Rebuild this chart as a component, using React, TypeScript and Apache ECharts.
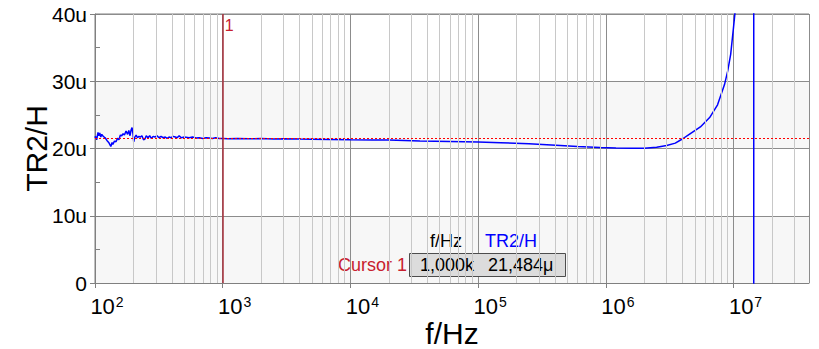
import React, { useEffect, useRef } from "react";
import * as echarts from "echarts";

// Measured transfer curve: frequency (Hz) and TR2 in µH
const freqHz = [
  100, 101, 103, 105.6, 107, 109, 111, 113, 116, 120, 124, 128, 133, 136, 138, 142, 146, 150,
  154, 158, 162, 166, 170, 175, 180, 184, 188, 192, 195, 198, 201, 205, 210, 215, 221, 226,
  233, 240, 246, 252, 260, 268, 276, 285, 295, 306, 317, 329, 342, 355, 367, 380, 394, 410,
  425, 440, 456, 473, 500, 546, 580, 620, 655, 700, 740, 785, 830, 880, 940, 1000, 1100,
  1300, 1600, 2000, 2500, 3000, 4000, 5000, 7000, 1e4, 1.5e4, 2e4, 3.5e4, 6e4, 1e5, 1.5e5,
  2.5e5, 4.4e5, 6e5, 9e5, 1.2e6, 1.6e6, 2e6, 2.5e6, 3e6, 3.5e6, 4e6, 4.5e6, 5.5e6, 6.5e6,
  7.5e6, 8.5e6, 9e6, 9.5e6, 1e7, 1.05e7, 1.2e7, 1.44e7, 1.44e7, 2e7, 3.9e7,
];
const tr2uH = [
  21.6, 21.8, 21.3, 22.4, 21.9, 22.3, 21.7, 22.1, 21.8, 21.6, 21.2, 20.9, 20.3, 20.9, 20.6,
  21.1, 21.0, 21.5, 21.3, 22.0, 21.9, 22.2, 22.0, 22.6, 22.1, 22.7, 21.9, 22.8, 23.1, 22.3,
  21.0, 21.7, 22.0, 21.6, 21.8, 21.7, 21.9, 21.3, 21.4, 21.9, 21.6, 21.9, 21.5, 21.8, 21.7,
  21.9, 21.6, 21.8, 21.6, 21.7, 21.5, 21.7, 21.6, 21.8, 21.7, 21.6, 21.9, 21.6, 21.7, 21.6,
  21.7, 21.55, 21.6, 21.5, 21.6, 21.55, 21.5, 21.6, 21.5, 21.484, 21.45, 21.5, 21.45, 21.48,
  21.43, 21.45, 21.4, 21.38, 21.35, 21.3, 21.28, 21.25, 21.1, 21.05, 20.95, 20.85, 20.7,
  20.45, 20.3, 20.15, 20.07, 20.03, 20.05, 20.2, 20.45, 20.8, 21.45, 22.1, 23.2, 24.6, 26.5,
  29.5, 31.5, 34.0, 38.0, 42.0, 60.0, 5000, -5000, -60, -20,
];

// Axis ranges
const xMin = 100;
const xMax = 3.9e7;
const yMin = 0;
const yMax = 40;
const yStep = 10;
const yMinorStep = 5;

// Logarithmic grid: decades and in-between multiples
const decades = [1e2, 1e3, 1e4, 1e5, 1e6, 1e7];
const minorMultipliers = [2, 3, 4, 5, 6, 7, 8, 9];

// Cursor 1 readout
const cursorFreq = 1000;
const cursorValue = 21.484;
const cursorName = "Cursor 1";
const cursorMark = "1";
const readoutFreqHeader = "f/Hz";
const readoutValueHeader = "TR2/H";
const readoutFreqText = "1,000k";
const readoutValueText = "21,484μ";

const FONT = "Arial, 'Liberation Sans', sans-serif";

export default function App() {
  const ref = useRef<HTMLDivElement>(null);

  useEffect(() => {
    if (!ref.current) return;
    document.body.style.margin = "0";
    const chart = echarts.init(ref.current, null, { renderer: "svg" });

    const curve = freqHz.map((f, i) => [f, tr2uH[i]]);
    const minorFreqs: number[] = [];
    decades.forEach((d) =>
      minorMultipliers.forEach((m) => {
        const f = d * m;
        if (f > xMin && f < xMax) minorFreqs.push(f);
      })
    );

    chart.setOption({
      animation: false,
      backgroundColor: "#ffffff",
      textStyle: { fontFamily: FONT },
      grid: {
        left: 95,
        right: 10,
        top: 14,
        bottom: 66,
        outerBoundsMode: "none",
        containLabel: false,
        show: true,
        borderColor: "#808080",
        borderWidth: 1,
        backgroundColor: "transparent",
      },
      xAxis: {
        type: "log",
        logBase: 10,
        min: xMin,
        max: xMax,
        name: "f/Hz",
        nameLocation: "middle",
        nameGap: 35,
        nameMoveOverlap: false,
        nameTextStyle: { fontFamily: FONT, fontSize: 30, lineHeight: 30, color: "#000000" },
        axisLine: { show: true, lineStyle: { color: "#808080", width: 1 } },
        axisTick: { show: true, length: 5, lineStyle: { color: "#808080" } },
        splitLine: { show: true, lineStyle: { color: "#8c8c8c", width: 1 } },
        axisLabel: {
          margin: 12,
          showMaxLabel: false,
          padding: [0, 0, 0, 24],
          formatter: (v: number) => {
            const e = Math.log10(v);
            if (Math.abs(e - Math.round(e)) > 1e-6) return "";
            return `{b|10}{s|${Math.round(e)}}`;
          },
          rich: {
            b: { fontFamily: FONT, fontSize: 22, color: "#000000", verticalAlign: "bottom" },
            s: {
              fontFamily: FONT,
              fontSize: 14,
              color: "#000000",
              verticalAlign: "top",
              padding: [0, 0, 8, 1],
            },
          },
        },
      },
      yAxis: [
        {
          type: "value",
          position: "left",
          min: yMin,
          max: yMax,
          interval: yStep,
          name: "TR2/H",
          nameLocation: "middle",
          nameGap: 44,
          nameMoveOverlap: false,
          nameTextStyle: { fontFamily: FONT, fontSize: 30, lineHeight: 30, color: "#000000" },
          axisLine: { show: true, lineStyle: { color: "#808080" } },
          axisTick: { show: true, length: 5, lineStyle: { color: "#808080" } },
          axisLabel: {
            margin: 8,
            fontFamily: FONT,
            fontSize: 21,
            color: "#000000",
            formatter: (v: number) => (v === 0 ? "0" : `${v}u`),
          },
          splitLine: { show: true, lineStyle: { color: "#8c8c8c", width: 1 } },
          splitArea: { show: true, areaStyle: { color: ["#f7f7f7", "#ffffff"] } },
        },
        {
          // inner half-step ticks on the left edge
          type: "value",
          position: "left",
          min: yMin,
          max: yMax,
          interval: yMinorStep,
          axisLine: { show: false },
          axisTick: { show: true, inside: true, length: 5, lineStyle: { color: "#808080" } },
          axisLabel: { show: false },
          splitLine: { show: false },
        },
      ],
      series: [
        {
          // minor log grid lines
          type: "line",
          data: [],
          z: 1,
          silent: true,
          markLine: {
            silent: true,
            symbol: "none",
            label: { show: false },
            lineStyle: { color: "#c8c8c8", width: 1, type: "solid" },
            emphasis: { disabled: true },
            data: minorFreqs.map((f) => ({ xAxis: f })),
          },
        },
        {
          // cursor level, dotted red across the plot
          type: "line",
          data: [],
          z: 2,
          silent: true,
          markLine: {
            silent: true,
            symbol: "none",
            label: { show: false },
            emphasis: { disabled: true },
            lineStyle: { color: "#ff0000", width: 1, type: [2, 2] },
            data: [{ yAxis: cursorValue }],
          },
        },
        {
          name: "TR2/H",
          type: "line",
          data: curve,
          z: 3,
          clip: true,
          showSymbol: false,
          symbol: "none",
          lineStyle: { color: "#0000ff", width: 1.5 },
          markLine: {
            silent: true,
            symbol: "none",
            label: { show: false },
            emphasis: { disabled: true },
            lineStyle: { color: "#a8303c", width: 1.5, type: "solid" },
            data: [{ xAxis: cursorFreq }],
          },
        },
      ],
    });

    // Cursor number and readout box, placed from the cursor's pixel position
    const top = chart.convertToPixel({ gridIndex: 0 }, [cursorFreq, yMax]) as number[];
    chart.setOption({
      graphic: [
        {
          type: "text",
          x: top[0] + 2,
          y: top[1] + 3,
          style: { text: cursorMark, font: `16px ${FONT}`, fill: "#c8202e" },
        },
        {
          type: "rect",
          shape: { x: 409.5, y: 253.5, width: 156, height: 23 },
          style: { fill: "#dcdcdc", stroke: "#4d4d4d", lineWidth: 1 },
        },
        {
          type: "text",
          x: 430,
          y: 241,
          style: {
            text: readoutFreqHeader,
            font: `18px ${FONT}`,
            fill: "#000000",
            verticalAlign: "middle",
          },
        },
        {
          type: "text",
          x: 485,
          y: 241,
          style: {
            text: readoutValueHeader,
            font: `18px ${FONT}`,
            fill: "#0000ff",
            verticalAlign: "middle",
          },
        },
        {
          type: "text",
          x: 407,
          y: 265,
          style: {
            text: cursorName,
            font: `18px ${FONT}`,
            fill: "#c8202e",
            align: "right",
            verticalAlign: "middle",
          },
        },
        {
          type: "text",
          x: 420,
          y: 265,
          style: {
            text: readoutFreqText,
            font: `18px ${FONT}`,
            fill: "#000000",
            verticalAlign: "middle",
          },
        },
        {
          type: "text",
          x: 488,
          y: 265,
          style: {
            text: readoutValueText,
            font: `18px ${FONT}`,
            fill: "#000000",
            verticalAlign: "middle",
          },
        },
      ],
    });

    return () => chart.dispose();
  }, []);

  return <div ref={ref} style={{ width: 819, height: 349 }} />;
}
